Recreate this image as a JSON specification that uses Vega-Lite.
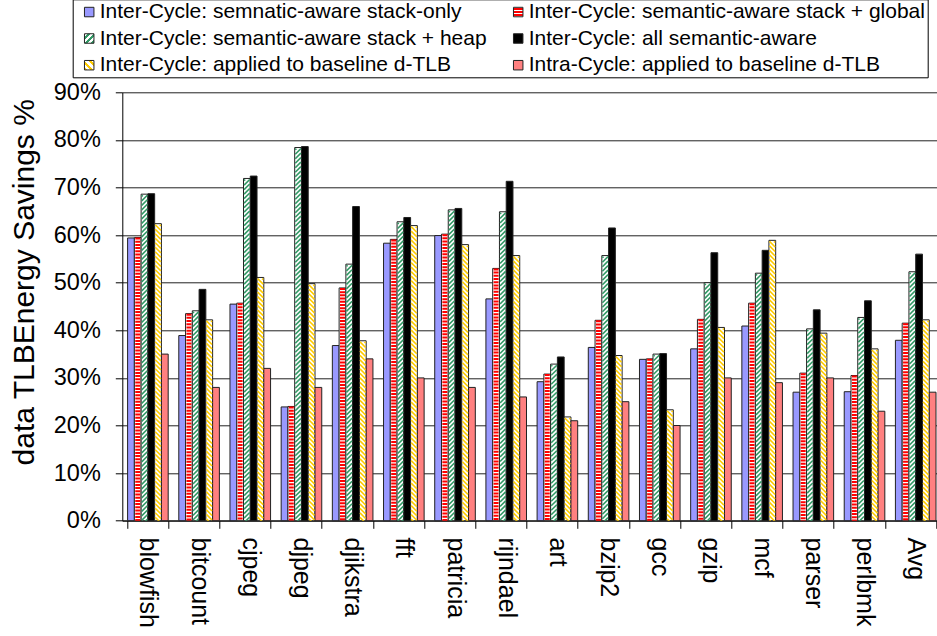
{
  "$schema": "https://vega.github.io/schema/vega-lite/v6.json",
  "width": 819,
  "height": 428.4,
  "autosize": "none",
  "padding": {"left": 122.3, "top": 92.3, "right": -4.3, "bottom": 115.3},
  "background": "white",
  "config": {
    "view": {"stroke": null},
    "font": "Liberation Sans",
    "axis": {"labelFont": "Liberation Sans", "titleFont": "Liberation Sans", "labelColor": "black", "titleColor": "black"},
    "legend": {"labelFont": "Liberation Sans", "labelColor": "black"}
  },
  "data": {
    "values": [
      {"bench": "blowfish", "series": "Inter-Cycle: semnatic-aware stack-only", "value": 59.4},
      {"bench": "blowfish", "series": "Inter-Cycle: semantic-aware stack + global", "value": 59.5},
      {"bench": "blowfish", "series": "Inter-Cycle: semantic-aware stack + heap", "value": 68.6},
      {"bench": "blowfish", "series": "Inter-Cycle: all semantic-aware", "value": 68.7},
      {"bench": "blowfish", "series": "Inter-Cycle: applied to baseline d-TLB", "value": 62.4},
      {"bench": "blowfish", "series": "Intra-Cycle: applied to baseline d-TLB", "value": 35.0},
      {"bench": "bitcount", "series": "Inter-Cycle: semnatic-aware stack-only", "value": 38.9},
      {"bench": "bitcount", "series": "Inter-Cycle: semantic-aware stack + global", "value": 43.5},
      {"bench": "bitcount", "series": "Inter-Cycle: semantic-aware stack + heap", "value": 44.1},
      {"bench": "bitcount", "series": "Inter-Cycle: all semantic-aware", "value": 48.6},
      {"bench": "bitcount", "series": "Inter-Cycle: applied to baseline d-TLB", "value": 42.2},
      {"bench": "bitcount", "series": "Intra-Cycle: applied to baseline d-TLB", "value": 28.0},
      {"bench": "cjpeg", "series": "Inter-Cycle: semnatic-aware stack-only", "value": 45.5},
      {"bench": "cjpeg", "series": "Inter-Cycle: semantic-aware stack + global", "value": 45.7},
      {"bench": "cjpeg", "series": "Inter-Cycle: semantic-aware stack + heap", "value": 71.9},
      {"bench": "cjpeg", "series": "Inter-Cycle: all semantic-aware", "value": 72.4},
      {"bench": "cjpeg", "series": "Inter-Cycle: applied to baseline d-TLB", "value": 51.1},
      {"bench": "cjpeg", "series": "Intra-Cycle: applied to baseline d-TLB", "value": 32.0},
      {"bench": "djpeg", "series": "Inter-Cycle: semnatic-aware stack-only", "value": 23.9},
      {"bench": "djpeg", "series": "Inter-Cycle: semantic-aware stack + global", "value": 24.0},
      {"bench": "djpeg", "series": "Inter-Cycle: semantic-aware stack + heap", "value": 78.4},
      {"bench": "djpeg", "series": "Inter-Cycle: all semantic-aware", "value": 78.6},
      {"bench": "djpeg", "series": "Inter-Cycle: applied to baseline d-TLB", "value": 49.8},
      {"bench": "djpeg", "series": "Intra-Cycle: applied to baseline d-TLB", "value": 28.0},
      {"bench": "djikstra", "series": "Inter-Cycle: semnatic-aware stack-only", "value": 36.8},
      {"bench": "djikstra", "series": "Inter-Cycle: semantic-aware stack + global", "value": 48.9},
      {"bench": "djikstra", "series": "Inter-Cycle: semantic-aware stack + heap", "value": 53.9},
      {"bench": "djikstra", "series": "Inter-Cycle: all semantic-aware", "value": 66.0},
      {"bench": "djikstra", "series": "Inter-Cycle: applied to baseline d-TLB", "value": 37.8},
      {"bench": "djikstra", "series": "Intra-Cycle: applied to baseline d-TLB", "value": 34.0},
      {"bench": "fft", "series": "Inter-Cycle: semnatic-aware stack-only", "value": 58.3},
      {"bench": "fft", "series": "Inter-Cycle: semantic-aware stack + global", "value": 59.1},
      {"bench": "fft", "series": "Inter-Cycle: semantic-aware stack + heap", "value": 62.8},
      {"bench": "fft", "series": "Inter-Cycle: all semantic-aware", "value": 63.7},
      {"bench": "fft", "series": "Inter-Cycle: applied to baseline d-TLB", "value": 62.0},
      {"bench": "fft", "series": "Intra-Cycle: applied to baseline d-TLB", "value": 30.0},
      {"bench": "patricia", "series": "Inter-Cycle: semnatic-aware stack-only", "value": 59.9},
      {"bench": "patricia", "series": "Inter-Cycle: semantic-aware stack + global", "value": 60.2},
      {"bench": "patricia", "series": "Inter-Cycle: semantic-aware stack + heap", "value": 65.3},
      {"bench": "patricia", "series": "Inter-Cycle: all semantic-aware", "value": 65.6},
      {"bench": "patricia", "series": "Inter-Cycle: applied to baseline d-TLB", "value": 58.0},
      {"bench": "patricia", "series": "Intra-Cycle: applied to baseline d-TLB", "value": 28.0},
      {"bench": "rijndael", "series": "Inter-Cycle: semnatic-aware stack-only", "value": 46.6},
      {"bench": "rijndael", "series": "Inter-Cycle: semantic-aware stack + global", "value": 53.0},
      {"bench": "rijndael", "series": "Inter-Cycle: semantic-aware stack + heap", "value": 64.9},
      {"bench": "rijndael", "series": "Inter-Cycle: all semantic-aware", "value": 71.3},
      {"bench": "rijndael", "series": "Inter-Cycle: applied to baseline d-TLB", "value": 55.7},
      {"bench": "rijndael", "series": "Intra-Cycle: applied to baseline d-TLB", "value": 26.0},
      {"bench": "art", "series": "Inter-Cycle: semnatic-aware stack-only", "value": 29.2},
      {"bench": "art", "series": "Inter-Cycle: semantic-aware stack + global", "value": 30.8},
      {"bench": "art", "series": "Inter-Cycle: semantic-aware stack + heap", "value": 32.9},
      {"bench": "art", "series": "Inter-Cycle: all semantic-aware", "value": 34.4},
      {"bench": "art", "series": "Inter-Cycle: applied to baseline d-TLB", "value": 21.8},
      {"bench": "art", "series": "Intra-Cycle: applied to baseline d-TLB", "value": 21.0},
      {"bench": "bzip2", "series": "Inter-Cycle: semnatic-aware stack-only", "value": 36.4},
      {"bench": "bzip2", "series": "Inter-Cycle: semantic-aware stack + global", "value": 42.1},
      {"bench": "bzip2", "series": "Inter-Cycle: semantic-aware stack + heap", "value": 55.7},
      {"bench": "bzip2", "series": "Inter-Cycle: all semantic-aware", "value": 61.5},
      {"bench": "bzip2", "series": "Inter-Cycle: applied to baseline d-TLB", "value": 34.7},
      {"bench": "bzip2", "series": "Intra-Cycle: applied to baseline d-TLB", "value": 25.0},
      {"bench": "gcc", "series": "Inter-Cycle: semnatic-aware stack-only", "value": 33.9},
      {"bench": "gcc", "series": "Inter-Cycle: semantic-aware stack + global", "value": 34.0},
      {"bench": "gcc", "series": "Inter-Cycle: semantic-aware stack + heap", "value": 35.0},
      {"bench": "gcc", "series": "Inter-Cycle: all semantic-aware", "value": 35.1},
      {"bench": "gcc", "series": "Inter-Cycle: applied to baseline d-TLB", "value": 23.3},
      {"bench": "gcc", "series": "Intra-Cycle: applied to baseline d-TLB", "value": 20.0},
      {"bench": "gzip", "series": "Inter-Cycle: semnatic-aware stack-only", "value": 36.1},
      {"bench": "gzip", "series": "Inter-Cycle: semantic-aware stack + global", "value": 42.3},
      {"bench": "gzip", "series": "Inter-Cycle: semantic-aware stack + heap", "value": 50.0},
      {"bench": "gzip", "series": "Inter-Cycle: all semantic-aware", "value": 56.3},
      {"bench": "gzip", "series": "Inter-Cycle: applied to baseline d-TLB", "value": 40.6},
      {"bench": "gzip", "series": "Intra-Cycle: applied to baseline d-TLB", "value": 30.0},
      {"bench": "mcf", "series": "Inter-Cycle: semnatic-aware stack-only", "value": 40.9},
      {"bench": "mcf", "series": "Inter-Cycle: semantic-aware stack + global", "value": 45.7},
      {"bench": "mcf", "series": "Inter-Cycle: semantic-aware stack + heap", "value": 52.0},
      {"bench": "mcf", "series": "Inter-Cycle: all semantic-aware", "value": 56.8},
      {"bench": "mcf", "series": "Inter-Cycle: applied to baseline d-TLB", "value": 58.9},
      {"bench": "mcf", "series": "Intra-Cycle: applied to baseline d-TLB", "value": 29.0},
      {"bench": "parser", "series": "Inter-Cycle: semnatic-aware stack-only", "value": 27.0},
      {"bench": "parser", "series": "Inter-Cycle: semantic-aware stack + global", "value": 31.0},
      {"bench": "parser", "series": "Inter-Cycle: semantic-aware stack + heap", "value": 40.3},
      {"bench": "parser", "series": "Inter-Cycle: all semantic-aware", "value": 44.3},
      {"bench": "parser", "series": "Inter-Cycle: applied to baseline d-TLB", "value": 39.4},
      {"bench": "parser", "series": "Intra-Cycle: applied to baseline d-TLB", "value": 30.0},
      {"bench": "perlbmk", "series": "Inter-Cycle: semnatic-aware stack-only", "value": 27.1},
      {"bench": "perlbmk", "series": "Inter-Cycle: semantic-aware stack + global", "value": 30.5},
      {"bench": "perlbmk", "series": "Inter-Cycle: semantic-aware stack + heap", "value": 42.7},
      {"bench": "perlbmk", "series": "Inter-Cycle: all semantic-aware", "value": 46.2},
      {"bench": "perlbmk", "series": "Inter-Cycle: applied to baseline d-TLB", "value": 36.1},
      {"bench": "perlbmk", "series": "Intra-Cycle: applied to baseline d-TLB", "value": 23.0},
      {"bench": "Avg", "series": "Inter-Cycle: semnatic-aware stack-only", "value": 37.9},
      {"bench": "Avg", "series": "Inter-Cycle: semantic-aware stack + global", "value": 41.5},
      {"bench": "Avg", "series": "Inter-Cycle: semantic-aware stack + heap", "value": 52.3},
      {"bench": "Avg", "series": "Inter-Cycle: all semantic-aware", "value": 56.0},
      {"bench": "Avg", "series": "Inter-Cycle: applied to baseline d-TLB", "value": 42.2},
      {"bench": "Avg", "series": "Intra-Cycle: applied to baseline d-TLB", "value": 27.0}
    ]
  },
  "resolve": {"scale": {"fill": "independent"}},
  "encoding": {
    "x": {
      "field": "bench", "type": "nominal", "sort": null,
      "scale": {"paddingInner": 0.207, "paddingOuter": 0.1035},
      "axis": {
        "title": null, "labelAngle": 90, "labelFontSize": 25, "labelPadding": 8.7,
        "tickSize": 7.6, "tickColor": "black", "domainColor": "black", "tickBand": "extent", "grid": false
      }
    },
    "xOffset": {
      "field": "series", "type": "nominal", "sort": null,
      "scale": {
        "domain": [
          "Inter-Cycle: semnatic-aware stack-only",
          "Inter-Cycle: semantic-aware stack + global",
          "Inter-Cycle: semantic-aware stack + heap",
          "Inter-Cycle: all semantic-aware",
          "Inter-Cycle: applied to baseline d-TLB",
          "Intra-Cycle: applied to baseline d-TLB"
        ],
        "paddingInner": 0, "paddingOuter": 0
      }
    },
    "y": {
      "field": "value", "type": "quantitative",
      "scale": {"domain": [0, 90], "nice": false},
      "axis": {
        "title": "data TLBEnergy Savings %",
        "values": [0, 10, 20, 30, 40, 50, 60, 70, 80, 90],
        "labelExpr": "datum.value + '%'",
        "labelFontSize": 23.5, "labelPadding": 15, "tickSize": 7,
        "tickColor": "black", "domainColor": "black",
        "grid": true, "gridColor": "#222", "gridWidth": 1,
        "titleFontSize": 30, "titleFontWeight": "normal", "titleAngle": 270,
        "titleX": -89.3, "titleY": 189.5, "titleAlign": "center", "titleBaseline": "alphabetic"
      }
    }
  },
  "layer": [
    {
      "mark": {"type": "bar", "stroke": "#222", "strokeWidth": 1},
      "encoding": {
        "fill": {
          "field": "series", "type": "nominal", "legend": null,
          "scale": {
            "domain": [
              "Inter-Cycle: semnatic-aware stack-only",
              "Inter-Cycle: semantic-aware stack + global",
              "Inter-Cycle: semantic-aware stack + heap",
              "Inter-Cycle: all semantic-aware",
              "Inter-Cycle: applied to baseline d-TLB",
              "Intra-Cycle: applied to baseline d-TLB"
            ],
            "range": ["#9999ff", "#ffffff", "#ffffff", "#000000", "#ffffff", "#ff8080"]
          }
        }
      }
    },
    {
      "transform": [{"filter": "datum.series === 'Inter-Cycle: semantic-aware stack + global'"}],
      "mark": {"type": "rule", "stroke": "#ff0000", "strokeWidth": 5, "strokeDash": [2, 1.2]},
      "encoding": {"y2": {"datum": 0}}
    },
    {
      "transform": [{"filter": "datum.series === 'Inter-Cycle: semantic-aware stack + heap'"}],
      "mark": {
        "type": "point", "filled": false, "opacity": 1, "size": 4, "clip": true,
        "stroke": "#339966", "strokeWidth": 1.6,
        "shape": "M-2.8,2.2l1.1,-1.1M-2.8,6.7l5.6,-5.6m-5.6,10.1l5.6,-5.6m-5.6,10.1l5.6,-5.6m-5.6,10.1l5.6,-5.6m-5.6,10.1l5.6,-5.6m-5.6,10.1l5.6,-5.6m-5.6,10.1l5.6,-5.6m-5.6,10.1l5.6,-5.6m-5.6,10.1l5.6,-5.6m-5.6,10.1l5.6,-5.6m-5.6,10.1l5.6,-5.6m-5.6,10.1l5.6,-5.6m-5.6,10.1l5.6,-5.6m-5.6,10.1l5.6,-5.6m-5.6,10.1l5.6,-5.6m-5.6,10.1l5.6,-5.6m-5.6,10.1l5.6,-5.6m-5.6,10.1l5.6,-5.6m-5.6,10.1l5.6,-5.6m-5.6,10.1l5.6,-5.6m-5.6,10.1l5.6,-5.6m-5.6,10.1l5.6,-5.6m-5.6,10.1l5.6,-5.6m-5.6,10.1l5.6,-5.6m-5.6,10.1l5.6,-5.6m-5.6,10.1l5.6,-5.6m-5.6,10.1l5.6,-5.6m-5.6,10.1l5.6,-5.6m-5.6,10.1l5.6,-5.6m-5.6,10.1l5.6,-5.6m-5.6,10.1l5.6,-5.6m-5.6,10.1l5.6,-5.6m-5.6,10.1l5.6,-5.6m-5.6,10.1l5.6,-5.6m-5.6,10.1l5.6,-5.6m-5.6,10.1l5.6,-5.6m-5.6,10.1l5.6,-5.6m-5.6,10.1l5.6,-5.6m-5.6,10.1l5.6,-5.6m-5.6,10.1l5.6,-5.6m-5.6,10.1l5.6,-5.6m-5.6,10.1l5.6,-5.6m-5.6,10.1l5.6,-5.6m-5.6,10.1l5.6,-5.6m-5.6,10.1l5.6,-5.6m-5.6,10.1l5.6,-5.6m-5.6,10.1l5.6,-5.6m-5.6,10.1l5.6,-5.6m-5.6,10.1l5.6,-5.6m-5.6,10.1l5.6,-5.6m-5.6,10.1l5.6,-5.6m-5.6,10.1l5.6,-5.6m-5.6,10.1l5.6,-5.6m-5.6,10.1l5.6,-5.6m-5.6,10.1l5.6,-5.6m-5.6,10.1l5.6,-5.6m-5.6,10.1l5.6,-5.6m-5.6,10.1l5.6,-5.6m-5.6,10.1l5.6,-5.6m-5.6,10.1l5.6,-5.6m-5.6,10.1l5.6,-5.6m-5.6,10.1l5.6,-5.6m-5.6,10.1l5.6,-5.6m-5.6,10.1l5.6,-5.6m-5.6,10.1l5.6,-5.6m-5.6,10.1l5.6,-5.6m-5.6,10.1l5.6,-5.6m-5.6,10.1l5.6,-5.6m-5.6,10.1l5.6,-5.6m-5.6,10.1l5.6,-5.6m-5.6,10.1l5.6,-5.6m-5.6,10.1l5.6,-5.6m-5.6,10.1l5.6,-5.6m-5.6,10.1l5.6,-5.6m-5.6,10.1l5.6,-5.6m-5.6,10.1l5.6,-5.6m-5.6,10.1l5.6,-5.6m-5.6,10.1l5.6,-5.6m-5.6,10.1l5.6,-5.6m-5.6,10.1l5.6,-5.6m-5.6,10.1l5.6,-5.6m-5.6,10.1l5.6,-5.6m-5.6,10.1l5.6,-5.6"
      }
    },
    {
      "transform": [{"filter": "datum.series === 'Inter-Cycle: applied to baseline d-TLB'"}],
      "mark": {
        "type": "point", "filled": false, "opacity": 1, "size": 4, "clip": true,
        "stroke": "#ffcc00", "strokeWidth": 1.6,
        "shape": "M1.7,1.1l1.1,1.1M-2.8,1.1l5.6,5.6m-5.6,-1.1l5.6,5.6m-5.6,-1.1l5.6,5.6m-5.6,-1.1l5.6,5.6m-5.6,-1.1l5.6,5.6m-5.6,-1.1l5.6,5.6m-5.6,-1.1l5.6,5.6m-5.6,-1.1l5.6,5.6m-5.6,-1.1l5.6,5.6m-5.6,-1.1l5.6,5.6m-5.6,-1.1l5.6,5.6m-5.6,-1.1l5.6,5.6m-5.6,-1.1l5.6,5.6m-5.6,-1.1l5.6,5.6m-5.6,-1.1l5.6,5.6m-5.6,-1.1l5.6,5.6m-5.6,-1.1l5.6,5.6m-5.6,-1.1l5.6,5.6m-5.6,-1.1l5.6,5.6m-5.6,-1.1l5.6,5.6m-5.6,-1.1l5.6,5.6m-5.6,-1.1l5.6,5.6m-5.6,-1.1l5.6,5.6m-5.6,-1.1l5.6,5.6m-5.6,-1.1l5.6,5.6m-5.6,-1.1l5.6,5.6m-5.6,-1.1l5.6,5.6m-5.6,-1.1l5.6,5.6m-5.6,-1.1l5.6,5.6m-5.6,-1.1l5.6,5.6m-5.6,-1.1l5.6,5.6m-5.6,-1.1l5.6,5.6m-5.6,-1.1l5.6,5.6m-5.6,-1.1l5.6,5.6m-5.6,-1.1l5.6,5.6m-5.6,-1.1l5.6,5.6m-5.6,-1.1l5.6,5.6m-5.6,-1.1l5.6,5.6m-5.6,-1.1l5.6,5.6m-5.6,-1.1l5.6,5.6m-5.6,-1.1l5.6,5.6m-5.6,-1.1l5.6,5.6m-5.6,-1.1l5.6,5.6m-5.6,-1.1l5.6,5.6m-5.6,-1.1l5.6,5.6m-5.6,-1.1l5.6,5.6m-5.6,-1.1l5.6,5.6m-5.6,-1.1l5.6,5.6m-5.6,-1.1l5.6,5.6m-5.6,-1.1l5.6,5.6m-5.6,-1.1l5.6,5.6m-5.6,-1.1l5.6,5.6m-5.6,-1.1l5.6,5.6m-5.6,-1.1l5.6,5.6m-5.6,-1.1l5.6,5.6m-5.6,-1.1l5.6,5.6m-5.6,-1.1l5.6,5.6m-5.6,-1.1l5.6,5.6m-5.6,-1.1l5.6,5.6m-5.6,-1.1l5.6,5.6m-5.6,-1.1l5.6,5.6m-5.6,-1.1l5.6,5.6m-5.6,-1.1l5.6,5.6m-5.6,-1.1l5.6,5.6m-5.6,-1.1l5.6,5.6m-5.6,-1.1l5.6,5.6m-5.6,-1.1l5.6,5.6m-5.6,-1.1l5.6,5.6"
      }
    },
    {
      "transform": [{"filter": "false"}],
      "mark": {"type": "bar", "stroke": "#222", "strokeWidth": 1},
      "encoding": {
        "fill": {
          "field": "series", "type": "nominal",
          "scale": {
            "domain": [
              "Inter-Cycle: semnatic-aware stack-only",
              "Inter-Cycle: semantic-aware stack + global",
              "Inter-Cycle: semantic-aware stack + heap",
              "Inter-Cycle: all semantic-aware",
              "Inter-Cycle: applied to baseline d-TLB",
              "Intra-Cycle: applied to baseline d-TLB"
            ],
            "range": [
              "#9999ff",
              {"expr": "{gradient: 'linear', x1: 0, y1: 0, x2: 0, y2: 1, stops: [{offset: 0, color: '#fff'}, {offset: 0.1, color: '#fff'}, {offset: 0.1, color: '#f00'}, {offset: 0.3, color: '#f00'}, {offset: 0.3, color: '#fff'}, {offset: 0.4, color: '#fff'}, {offset: 0.4, color: '#f00'}, {offset: 0.6, color: '#f00'}, {offset: 0.6, color: '#fff'}, {offset: 0.7, color: '#fff'}, {offset: 0.7, color: '#f00'}, {offset: 0.9, color: '#f00'}, {offset: 0.9, color: '#fff'}, {offset: 1, color: '#fff'}]}"},
              {"expr": "{gradient: 'linear', x1: 0, y1: 0, x2: 1, y2: 1, stops: [{offset: 0, color: '#fff'}, {offset: 0.17, color: '#fff'}, {offset: 0.17, color: '#396'}, {offset: 0.33, color: '#396'}, {offset: 0.33, color: '#fff'}, {offset: 0.5, color: '#fff'}, {offset: 0.5, color: '#396'}, {offset: 0.67, color: '#396'}, {offset: 0.67, color: '#fff'}, {offset: 0.83, color: '#fff'}, {offset: 0.83, color: '#396'}, {offset: 1, color: '#396'}]}"},
              "#000000",
              {"expr": "{gradient: 'linear', x1: 1, y1: 0, x2: 0, y2: 1, stops: [{offset: 0, color: '#fff'}, {offset: 0.17, color: '#fff'}, {offset: 0.17, color: '#fc0'}, {offset: 0.33, color: '#fc0'}, {offset: 0.33, color: '#fff'}, {offset: 0.5, color: '#fff'}, {offset: 0.5, color: '#fc0'}, {offset: 0.67, color: '#fc0'}, {offset: 0.67, color: '#fff'}, {offset: 0.83, color: '#fff'}, {offset: 0.83, color: '#fc0'}, {offset: 1, color: '#fc0'}]}"},
              "#ff8080"
            ]
          },
          "legend": {
            "title": null, "orient": "none", "legendX": -49.6, "legendY": -93,
            "direction": "horizontal", "columns": 2,
            "symbolType": "square", "symbolSize": 90, "symbolStrokeWidth": 1, "symbolStrokeColor": "#222",
            "labelFontSize": 21, "labelLimit": 700, "labelOffset": 0,
            "labelExpr": "datum.label + '  '",
            "columnPadding": 17, "rowPadding": 4.7, "padding": 2, "symbolOffset": 4,
            "strokeColor": "black", "fillColor": "white"
          }
        }
      }
    }
  ]
}
